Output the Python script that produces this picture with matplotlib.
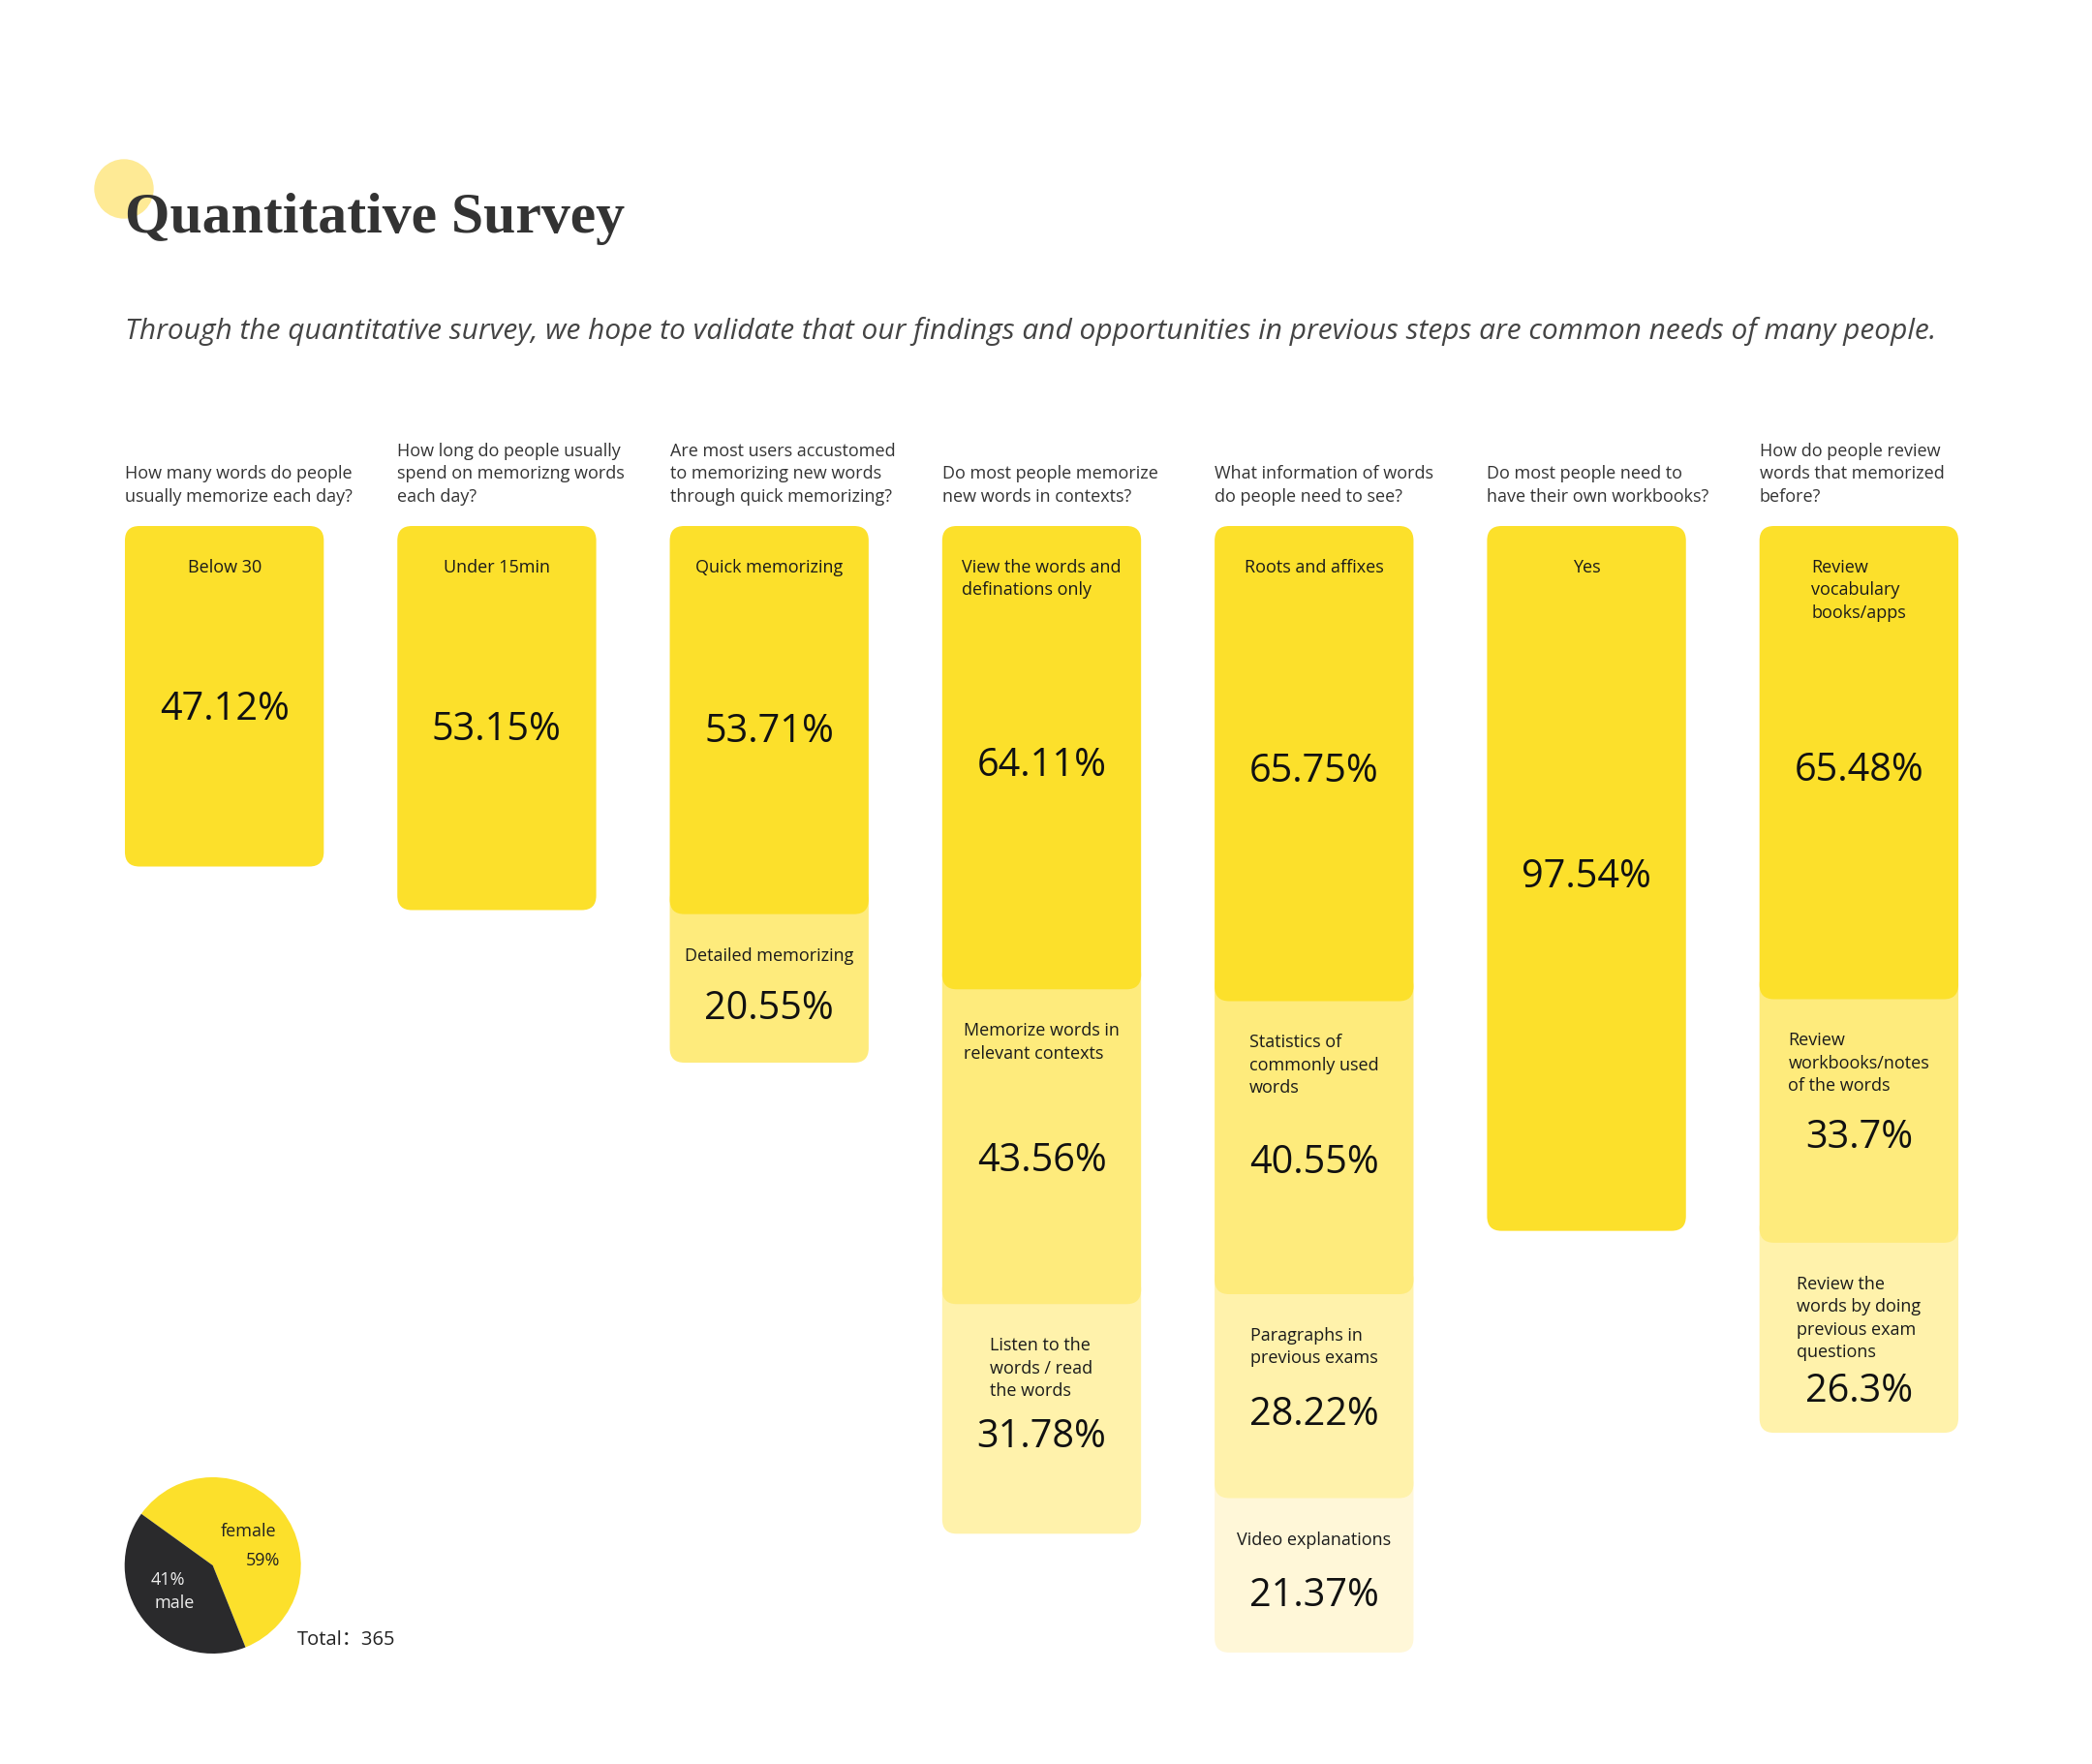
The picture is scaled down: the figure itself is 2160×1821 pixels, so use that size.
import matplotlib.pyplot as plt
from matplotlib.patches import FancyBboxPatch, Ellipse

title = "Quantitative Survey"
subtitle = ("Through the quantitative survey, we hope to validate that our findings "
            "and opportunities in previous steps are common needs of many people.")

questions = [
    "How many words do people\nusually memorize each day?",
    "How long do people usually\nspend on memorizng words\neach day?",
    "Are most users accustomed\nto memorizing new words\nthrough quick memorizing?",
    "Do most people memorize\nnew words in contexts?",
    "What information of words\ndo people need to see?",
    "Do most people need to\nhave their own workbooks?",
    "How do people review\nwords that memorized\nbefore?",
]

option_labels = [
    ["Below 30"],
    ["Under 15min"],
    ["Quick memorizing", "Detailed memorizing"],
    ["View the words and\ndefinations only", "Memorize words in\nrelevant contexts",
     "Listen to the\nwords / read\nthe words"],
    ["Roots and affixes", "Statistics of\ncommonly used\nwords",
     "Paragraphs in\nprevious exams", "Video explanations"],
    ["Yes"],
    ["Review\nvocabulary\nbooks/apps", "Review\nworkbooks/notes\nof the words",
     "Review the\nwords by doing\nprevious exam\nquestions"],
]

option_values = [
    [47.12],
    [53.15],
    [53.71, 20.55],
    [64.11, 43.56, 31.78],
    [65.75, 40.55, 28.22, 21.37],
    [97.54],
    [65.48, 33.7, 26.3],
]

gender_labels = ["female", "male"]
gender_share = [59, 41]
total_respondents = 365

shades = ["#FCE02B", "#FEEB7C", "#FFF2AB", "#FFF7D8"]
pie_colors = ["#FCE02B", "#2A2A2C"]

plt.rcParams['font.family'] = ['Open Sans', 'Noto Sans CJK SC', 'DejaVu Sans']

W, H = 2160, 1821
fig = plt.figure(figsize=(W / 100, H / 100), dpi=100)
fig.patch.set_facecolor('white')

# header
fig.patches.append(Ellipse((128 / W, 1 - 195 / H), 60 / W, 60 / H,
                           transform=fig.transFigure, color="#FEEA95", zorder=0))
fig.text(129 / W, 1 - 240 / H, title, fontsize=43, fontweight='bold',
         family='Liberation Serif', color='#333333', va='baseline', zorder=2)
fig.text(129 / W, 1 - 342 / H, subtitle, fontsize=21.5, style='italic',
         color='#444444', va='center')

# main axes: one unit per question on x, cumulative percent downwards on y
ax_left, ax_right, ax_top, ax_bottom = 91, 2060, 543, 1760
ax = fig.add_axes([ax_left / W, 1 - ax_bottom / H,
                   (ax_right - ax_left) / W, (ax_bottom - ax_top) / H])
px_x = (ax_right - ax_left) / len(questions)   # pixels per column
px_y = 7.46                                    # pixels per percentage point
ax.set_xlim(-0.5, len(questions) - 0.5)
ax.set_ylim((ax_bottom - ax_top) / px_y, 0)
ax.axis('off')

bar_w = 0.73
radius = 15  # px
overlap = 2 * radius / px_y
line_px = 24

for i, (q, labels, values) in enumerate(zip(questions, option_labels, option_values)):
    ax.text(i - bar_w / 2, -21 / px_y, q, ha='left', va='bottom', fontsize=13,
            color='#333333', linespacing=1.4)
    start = 0
    for k, (lab, v) in enumerate(zip(labels, values)):
        y0 = start - (overlap if k > 0 else 0)
        box = FancyBboxPatch((i - bar_w / 2, y0), bar_w, start + v - y0,
                             boxstyle=f"round,pad=0,rounding_size={radius / px_x}",
                             mutation_aspect=px_x / px_y,
                             facecolor=shades[k], edgecolor='none', zorder=10 - k)
        ax.add_patch(box)
        n_lines = lab.count('\n') + 1
        ax.text(i, start + 34 / px_y, lab, ha='center', va='top', multialignment='left',
                fontsize=13, color='#1A1A1A', linespacing=1.38, zorder=20)
        below_label = (42 + (n_lines - 1) * line_px + 40) / px_y
        y_pct = start + max(0.46 * v + 28 / px_y, below_label)
        ax.text(i, y_pct, f"{v:g}%", ha='center', va='center', fontsize=28.5,
                color='#111111', zorder=20)
        start += v

# gender pie
cx, cy, r = 219.7, 1616, 91
pax = fig.add_axes([(cx - r) / W, 1 - (cy + r) / H, 2 * r / W, 2 * r / H])
pax.pie(gender_share, colors=pie_colors, startangle=-68.2, counterclock=True,
        wedgeprops=dict(linewidth=0))
pax.set_xlim(-1, 1)
pax.set_ylim(-1, 1)
pax.text(0.41, 0.39, gender_labels[0], ha='center', va='center', fontsize=13, color='#222222')
pax.text(0.57, 0.05, f"{gender_share[0]}%", ha='center', va='center', fontsize=13, color='#222222')
pax.text(-0.51, -0.16, f"{gender_share[1]}%", ha='center', va='center', fontsize=13, color='#EEEEEE')
pax.text(-0.43, -0.43, gender_labels[1], ha='center', va='center', fontsize=13, color='#EEEEEE')
fig.text(307 / W, 1 - 1693 / H, f"Total：{total_respondents}", fontsize=14.5,
         color='#222222', va='center')

fig.savefig("out.png", dpi=100, facecolor='white')
